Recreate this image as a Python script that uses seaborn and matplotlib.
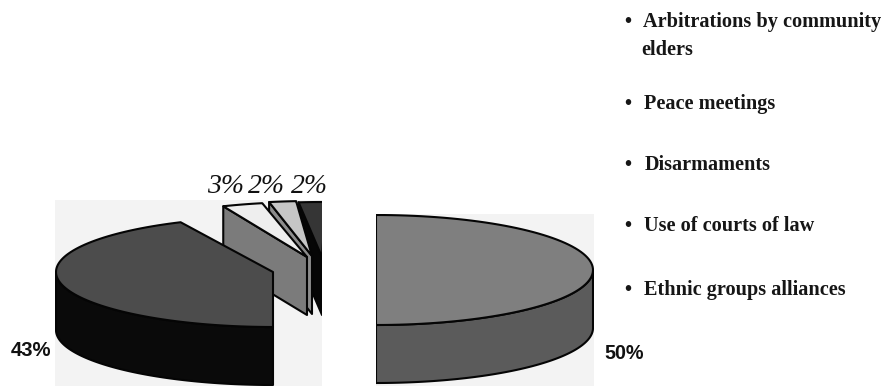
import numpy as np
import matplotlib
matplotlib.use("Agg")
import matplotlib.pyplot as plt
from matplotlib.patches import Rectangle
import seaborn as sns

# Shares of each conflict-resolution approach, percent
legend_items = [
    "Arbitrations by community",
    "Peace meetings",
    "Disarmaments",
    "Use of courts of law",
    "Ethnic groups alliances",
]
legend_wrap = "elders"
shares = [50, 43, 3, 2, 2]

# Top-surface and side-wall greys, same order as shares
top_colors = ["#7f7f7f", "#4c4c4c", "#eeeeee", "#c6c6c6", "#353535"]
side_colors = ["#5b5b5b", "#0a0a0a", "#7b7b7b", "#8c8c8c", "#060606"]

sns.set_theme(style="white")
plt.rcParams["font.family"] = ["Liberation Serif", "DejaVu Sans"]

fig = plt.figure(figsize=(8.87, 3.86), dpi=100)
ax = fig.add_axes([0, 0, 1, 1])
ax.set_xlim(0, 887)
ax.set_ylim(386, 0)
ax.axis("off")
sns.despine(ax=ax, left=True, bottom=True)

RX, RY, DEPTH = 217, 55, 58
EDGE = dict(edgecolor="#050505", linewidth=1.5, joinstyle="round")


def rim(cx, cy, deg):
    rad = np.deg2rad(deg)
    return cx + RX * np.cos(rad), cy - RY * np.sin(rad)


def arc(cx, cy, d0, d1, n=90):
    rad = np.deg2rad(np.linspace(d0, d1, n))
    return cx + RX * np.cos(rad), cy - RY * np.sin(rad)


def fill(xs, ys, color, clip):
    patch = ax.fill(xs, ys, facecolor=color, **EDGE)[0]
    patch.set_clip_path(clip)
    return patch


def wall(cx, cy, d0, d1, color, clip):
    # Outer wall of a wedge between two rim angles
    x, y = arc(cx, cy, d0, d1)
    fill(np.r_[x, x[::-1]], np.r_[y, y[::-1] + DEPTH], color, clip)


def cut_face(cx, cy, deg, color, clip):
    # Flat face along a wedge's radial cut
    x, y = rim(cx, cy, deg)
    fill([x, cx, cx, x], [y, cy, cy + DEPTH, y + DEPTH], color, clip)


def top(cx, cy, d0, d1, color, clip):
    x, y = arc(cx, cy, d0, d1)
    fill(np.r_[cx, x], np.r_[cy, y], color, clip)


# Scanned backing panels behind the two halves of the pie
left_panel = Rectangle((55, 200), 267, 186, facecolor="#f3f3f3", edgecolor="none")
right_panel = Rectangle((376, 214), 218, 172, facecolor="#f3f3f3", edgecolor="none")
ax.add_patch(left_panel)
ax.add_patch(right_panel)

# Wedge boundaries run clockwise from twelve o'clock
sweeps = np.array(shares) * 3.6
ends = 90 - np.cumsum(sweeps)
starts = ends + sweeps

# Large right half
cx, cy = 376, 270
wall(cx, cy, 0, -90, side_colors[0], right_panel)
top(cx, cy, starts[0], ends[0], top_colors[0], right_panel)

# Exploded slices, drawn back to front: apex x, apex y, small rotation
exploded = {4: (322, 257, -1.0), 3: (312, 256, -3.0), 2: (307, 257, -2.5)}
for i in (4, 3, 2):
    ox, oy, turn = exploded[i]
    cut_face(ox, oy, starts[i] + turn, side_colors[i], left_panel)
    top(ox, oy, starts[i] + turn, ends[i] + turn, top_colors[i], left_panel)

# Large left slice
cx, cy = 273, 272
wall(cx, cy, starts[1] - 90, starts[1], side_colors[1], left_panel)
top(cx, cy, ends[1], starts[1], top_colors[1], left_panel)

# Percentage labels
sans = ["Liberation Sans", "DejaVu Sans"]
ax.text(604, 359, f"{shares[0]}%", family=sans, weight="bold", size=14.2,
        color="#111111", ha="left", va="baseline")
ax.text(11, 356, f"{shares[1]}%", family=sans, weight="bold", size=14.6,
        color="#111111", ha="left", va="baseline")
for x, share in zip((207, 248, 291), shares[2:]):
    ax.text(x, 193, f"{share}%", style="italic", size=20, color="#111111",
            ha="left", va="baseline")

# Bulleted key
text_style = dict(weight="bold", size=14.6, color="#161616", ha="left", va="baseline")
rows = [(643, 27), (644, 109), (645, 170), (644, 231), (644, 295)]
for (x, y), item in zip(rows, legend_items):
    ax.text(624, y, "•", **text_style)
    ax.text(x, y, item, **text_style)
ax.text(641, 55, legend_wrap, **text_style)

fig.savefig("out.png", dpi=100)
